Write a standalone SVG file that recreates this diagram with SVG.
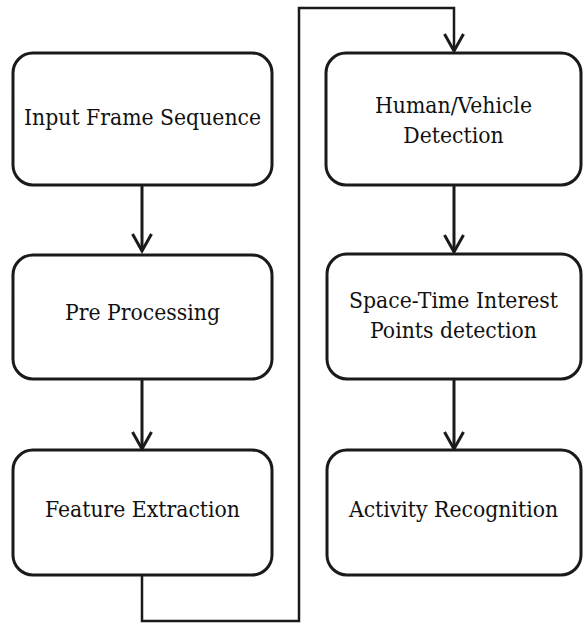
<svg xmlns="http://www.w3.org/2000/svg" width="584" height="624" viewBox="0 0 584 624">
<defs>
<style>
.box{fill:#fff;stroke:#1a1a1a;stroke-width:3}
.lbl{font-family:'DejaVu Serif Condensed','DejaVu Serif',serif;font-size:22.7px;fill:#111;text-anchor:middle}
.conn{fill:none;stroke:#1a1a1a;stroke-width:3}
.thin{fill:none;stroke:#1a1a1a;stroke-width:2.5}
</style>
<marker id="arr" viewBox="-20 -12 24 24" refX="0" refY="0" markerWidth="24" markerHeight="24" markerUnits="userSpaceOnUse" orient="auto" overflow="visible">
<path d="M-17,-9.5 L0,0 L-17,9.5" fill="none" stroke="#1a1a1a" stroke-width="3"/>
</marker>
</defs>
<rect width="584" height="624" fill="#fff"/>
<g id="connectors">
<line class="conn" x1="142" y1="185" x2="142" y2="251" marker-end="url(#arr)"/>
<line class="conn" x1="142" y1="379" x2="142" y2="449" marker-end="url(#arr)"/>
<polyline class="thin" points="142,575 142,621 299,621 299,8 454,8 454,51" marker-end="url(#arr)"/>
<line class="conn" x1="454" y1="185" x2="454" y2="252" marker-end="url(#arr)"/>
<line class="conn" x1="454" y1="379" x2="454" y2="449" marker-end="url(#arr)"/>
</g>
<g id="n1">
<rect class="box" x="13" y="53" width="259" height="132" rx="20"/>
<text class="lbl" x="142.5" y="125">Input Frame Sequence</text>
</g>
<g id="n2">
<rect class="box" x="13" y="255" width="259" height="124" rx="20"/>
<text class="lbl" x="142.5" y="320">Pre Processing</text>
</g>
<g id="n3">
<rect class="box" x="13" y="450" width="259" height="125" rx="20"/>
<text class="lbl" x="142.5" y="517">Feature Extraction</text>
</g>
<g id="n4">
<rect class="box" x="326" y="53" width="255" height="132" rx="20"/>
<text class="lbl" x="453.5" y="113">Human/Vehicle</text>
<text class="lbl" x="453.5" y="143">Detection</text>
</g>
<g id="n5">
<rect class="box" x="327" y="254" width="254" height="125" rx="20"/>
<text class="lbl" x="453.5" y="308">Space-Time Interest</text>
<text class="lbl" x="453.5" y="338">Points detection</text>
</g>
<g id="n6">
<rect class="box" x="327" y="450" width="254" height="125" rx="20"/>
<text class="lbl" x="453.5" y="517">Activity Recognition</text>
</g>
</svg>
